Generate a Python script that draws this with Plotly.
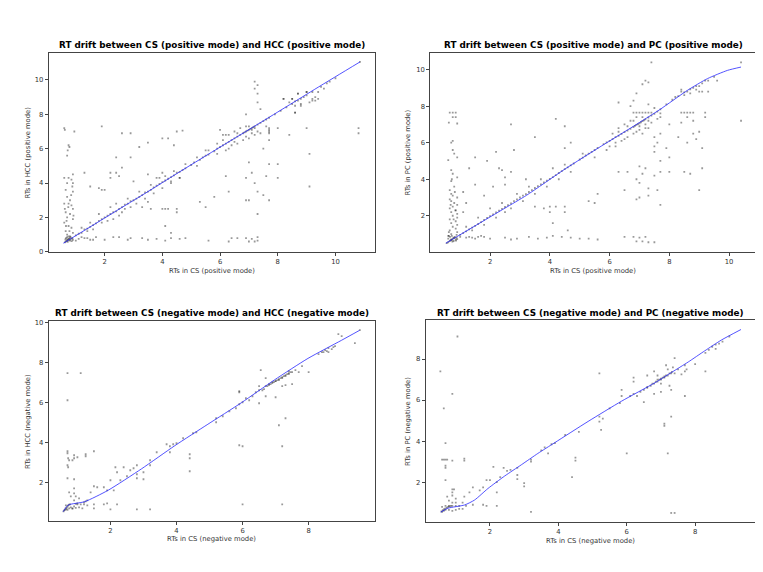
import plotly.graph_objects as go

# ---- positive mode, CS vs HCC (scatter of matched RTs + fitted drift curve)
pos_hcc_cs = [
    0.62, 0.65, 0.68, 0.70, 0.72, 0.74, 0.76, 0.78, 0.80, 0.82,
    0.66, 0.70, 0.75, 0.80, 0.85, 0.88, 0.90, 0.64, 0.72, 0.86,
    1.00, 1.10, 1.20, 1.30, 1.40, 1.50, 1.60, 1.70, 1.80, 1.90,
    2.00, 2.10, 2.20, 2.30, 2.40, 2.50, 2.60, 2.70, 2.80, 2.90,
    3.00, 3.10, 3.20, 3.30, 3.40, 3.50, 3.60, 3.70, 3.80, 3.90,
    4.00, 4.10, 4.20, 4.30, 4.40, 4.50, 4.60, 4.70, 4.80, 5.00,
    5.10, 5.30, 5.40, 5.50, 5.60, 5.80, 5.90, 6.00, 6.10, 6.20,
    6.30, 6.40, 6.50, 6.60, 6.70, 6.80, 6.85, 6.90, 6.95, 7.00,
    7.05, 7.10, 7.15, 7.20, 7.30, 7.40, 7.50, 7.60, 7.70, 7.90,
    8.10, 8.30, 8.50, 8.60, 8.70, 8.80, 8.90, 9.00, 9.20, 9.50,
    9.80, 10.00,
    1.20, 1.40, 1.50, 1.60, 1.80, 1.90, 2.10, 2.20, 2.30, 2.40,
    2.50, 2.60, 2.70, 2.80, 2.90, 3.10, 3.20, 3.40, 3.60, 3.70,
    3.90, 4.00, 4.10, 4.30, 4.40, 4.60, 4.80, 5.20, 5.60, 5.90,
    6.10, 6.20, 6.30, 6.40, 6.50, 6.60, 6.70, 6.80, 6.90, 7.00,
    7.10, 7.20, 7.30, 7.40, 6.60, 6.90, 7.00, 7.10, 7.20, 6.50,
    6.20, 6.30, 7.60, 7.70, 7.70, 8.20, 8.50, 8.60, 8.70, 8.80,
    9.00, 9.10, 9.20, 9.30, 9.40, 8.60, 9.70, 9.30, 8.40,
    0.60, 0.62, 0.75, 0.78, 0.70, 0.72, 0.60, 0.75, 0.90, 0.85,
    0.70, 0.90, 0.65, 0.90, 0.70, 0.80, 0.60, 0.75, 0.85, 0.90,
    0.65, 0.80, 0.70, 0.90, 0.60, 0.75, 0.85, 0.65, 0.90, 0.70,
    0.80, 0.95, 0.62, 0.68, 0.78, 0.88, 0.92, 0.66, 0.84, 0.74,
    1.20, 1.40, 1.50, 1.70, 2.00, 2.30, 2.50, 2.80, 2.90, 3.30,
    3.50, 3.80, 4.10, 4.30, 4.60, 4.80, 5.60, 6.30, 6.40, 6.60,
    6.90, 7.00, 7.10, 7.20, 7.30, 7.30, 1.00, 1.10, 1.30, 1.60,
    1.90, 2.60, 2.90, 4.00, 4.20, 4.50, 4.70, 4.40, 3.50, 3.20,
    2.40, 2.90, 1.30, 2.20, 2.40, 2.50, 1.50, 1.80, 1.90, 2.00,
    2.20, 2.60, 3.00, 3.50, 3.80, 4.00, 4.30, 4.60, 5.20, 5.50,
    5.90, 6.00, 6.10,
    3.30, 3.60, 4.00, 4.10, 4.20, 4.50, 4.50, 4.10, 4.30, 3.50,
    5.30, 5.50, 5.80, 6.30, 6.20, 6.90, 7.00, 6.90, 7.00, 7.10,
    7.20, 7.30, 7.30, 7.50, 7.60, 7.70, 7.70, 7.50, 7.70, 8.00,
    8.00, 9.10, 9.10, 9.00, 8.40, 8.00, 7.70, 7.70,
    7.20, 7.20, 7.30, 7.30, 7.30, 6.90, 7.40, 10.80, 10.80, 8.50,
    8.70, 8.80, 9.00, 9.20, 9.40, 9.60, 8.60, 8.20, 10.85,
]
pos_hcc_rt = [
    0.55, 0.60, 0.62, 0.70, 0.66, 0.75, 0.70, 0.80, 0.72, 0.85,
    0.80, 0.85, 0.90, 0.65, 0.75, 0.80, 0.70, 0.72, 0.58, 0.62,
    0.95, 1.05, 1.10, 1.30, 1.35, 1.45, 1.55, 1.65, 1.80, 1.90,
    2.00, 2.10, 2.20, 2.30, 2.35, 2.50, 2.60, 2.75, 2.80, 2.95,
    3.00, 3.10, 3.20, 3.30, 3.45, 3.50, 3.60, 3.75, 3.85, 3.95,
    4.05, 4.15, 4.25, 4.35, 4.45, 4.60, 4.65, 4.75, 4.85, 5.05,
    5.20, 5.35, 5.50, 5.60, 5.65, 5.85, 6.00, 6.10, 6.20, 6.30,
    6.40, 6.50, 6.60, 6.70, 6.80, 6.90, 6.95, 7.00, 7.05, 7.10,
    7.15, 7.20, 7.25, 7.30, 7.40, 7.50, 7.60, 7.70, 7.80, 8.00,
    8.20, 8.40, 8.60, 8.75, 8.80, 8.90, 9.00, 9.10, 9.30, 9.60,
    9.90, 10.10,
    1.40, 1.20, 1.70, 1.30, 2.20, 1.70, 1.80, 2.60, 1.90, 2.80,
    2.10, 2.30, 2.50, 3.10, 2.60, 2.80, 3.50, 3.10, 3.90, 3.40,
    4.30, 3.70, 4.40, 4.10, 4.70, 4.30, 5.10, 5.00, 5.90, 5.70,
    6.50, 5.90, 6.80, 6.20, 7.00, 6.30, 7.20, 6.50, 7.30, 6.60,
    7.10, 6.80, 7.00, 6.90, 6.90, 6.70, 7.30, 6.90, 7.20, 6.40,
    6.80, 6.00, 7.30, 7.10, 6.90, 8.90, 8.90, 8.50, 9.20, 8.60,
    9.30, 8.70, 8.90, 9.00, 9.30, 8.10, 9.80, 8.80, 8.70,
    7.20, 7.10, 6.20, 6.10, 5.60, 5.90, 4.30, 4.30, 4.50, 4.20,
    4.00, 4.00, 3.60, 3.50, 3.20, 3.00, 2.80, 2.80, 2.70, 2.50,
    2.30, 2.20, 2.00, 1.90, 1.70, 1.50, 1.40, 1.20, 1.10, 1.00,
    0.90, 7.00, 2.50, 1.80, 1.20, 3.80, 2.10, 1.50, 3.30, 2.60,
    0.85, 0.80, 0.70, 0.85, 0.70, 0.85, 0.85, 0.70, 0.80, 0.80,
    0.70, 0.75, 0.65, 0.80, 0.75, 0.80, 0.65, 0.60, 0.80, 0.80,
    0.80, 0.60, 0.75, 0.60, 0.85, 0.65, 0.65, 0.75, 0.80, 0.70,
    7.30, 6.90, 6.90, 6.60, 6.60, 7.00, 7.05, 6.20, 6.35, 6.10,
    5.50, 5.50, 4.60, 4.60, 4.60, 4.40, 3.80, 3.70, 3.60, 3.60,
    4.30, 4.90, 4.10, 4.50, 4.30, 4.60, 4.00, 4.30, 5.50, 5.90,
    6.30, 7.10, 6.80,
    2.60, 2.50, 2.50, 2.50, 2.50, 2.50, 2.30, 1.50, 1.10, 2.90,
    2.90, 2.60, 3.20, 3.50, 4.40, 3.00, 3.00, 4.30, 5.20, 4.60,
    4.00, 3.50, 2.20, 3.30, 4.40, 5.10, 3.00, 6.00, 6.50, 5.10,
    4.30, 3.80, 5.70, 7.20, 6.80, 7.20, 7.20, 7.00,
    9.90, 9.50, 9.70, 8.70, 9.20, 8.00, 8.30, 7.20, 6.90, 8.90,
    9.20, 8.50, 9.30, 8.80, 8.90, 9.50, 8.10, 8.90, 11.05,
]
pos_hcc_fit_cs = [0.57, 1.5, 2.5, 3.5, 4.5, 5.5, 6.5, 7.5, 8.5, 9.5, 10.85]
pos_hcc_fit_rt = [0.50, 1.45, 2.48, 3.50, 4.55, 5.58, 6.60, 7.62, 8.65, 9.68, 11.05]

# ---- positive mode, CS vs PC
pos_pc_cs = [
    0.55, 0.60, 0.65, 0.68, 0.70, 0.72, 0.75, 0.78, 0.80, 0.82,
    0.60, 0.66, 0.72, 0.78, 0.85, 0.88, 0.90, 0.62, 0.74, 0.86,
    1.00, 1.10, 1.20, 1.30, 1.40, 1.50, 1.60, 1.70, 1.80, 1.90,
    2.00, 2.10, 2.20, 2.30, 2.40, 2.50, 2.60, 2.70, 2.80, 2.90,
    3.00, 3.10, 3.20, 3.30, 3.40, 3.50, 3.60, 3.70, 3.80, 3.90,
    4.00, 4.10, 4.20, 4.30, 4.40, 4.50, 4.60, 4.70, 4.80, 5.00,
    5.10, 5.20, 5.30, 5.40, 5.50, 5.60, 5.80, 5.90, 6.00, 6.10,
    6.20, 6.30, 6.40, 6.50, 6.60, 6.70, 6.80, 6.85, 6.90, 6.95,
    7.00, 7.05, 7.10, 7.15, 7.20, 7.30, 7.40, 7.50, 7.60, 7.70,
    7.90, 8.10, 8.30, 8.50, 8.70, 8.90, 9.10, 9.30,
    1.20, 1.40, 1.60, 1.80, 2.00, 2.20, 2.40, 2.50, 2.70, 2.90,
    3.10, 3.30, 3.50, 3.70, 3.90, 4.10, 4.30, 4.50, 4.70, 5.10,
    5.50, 5.90, 6.10, 6.20, 6.30, 6.40, 6.50, 6.60, 6.70, 6.80,
    6.90, 7.00, 7.10, 7.20, 7.30, 7.40, 6.60, 6.80, 7.00, 7.20,
    6.30, 6.50, 6.90, 7.10, 7.30, 7.60, 7.70, 6.20, 6.00,
    0.65, 0.75, 0.85, 0.75, 0.85, 0.62, 0.90, 0.75, 0.70, 0.75,
    0.80, 0.90, 0.60, 0.70, 0.75, 0.90, 0.70, 0.80, 0.65, 0.70,
    0.75, 0.90, 0.65, 0.70, 0.80, 0.90, 0.75, 0.65, 0.85, 0.70,
    0.90, 0.75, 0.90, 0.65, 0.85, 0.70, 0.90, 0.75, 0.85, 0.65,
    0.90, 0.70, 0.88, 0.60, 0.72, 0.82, 0.68, 0.78, 0.62, 0.84,
    1.10, 1.20, 1.10, 1.30, 1.50, 1.50, 1.80, 1.90, 2.20, 2.10,
    2.40, 2.50, 2.30, 2.50, 2.70, 2.80, 3.20, 3.50, 2.70, 4.20,
    4.50, 4.50, 4.70,
    1.00, 1.20, 1.30, 1.40, 1.50, 1.60, 1.70, 1.80, 2.00, 2.50,
    2.70, 2.90, 3.30, 3.60, 3.90, 4.10, 4.40, 4.60, 4.70, 5.00,
    5.30, 5.60, 6.50, 6.80, 6.90, 7.00, 7.10, 7.20, 7.30, 7.50,
    3.50, 3.80, 4.00, 4.10, 4.00, 4.20, 4.50, 4.50, 5.30, 5.60,
    5.50, 6.30, 6.50, 6.60, 6.90, 7.00, 6.90, 7.00, 7.10, 7.00,
    7.20, 7.30, 7.30, 7.50, 7.60, 7.70, 7.70, 7.70, 7.90, 8.00,
    8.00, 7.50, 7.50, 8.50, 8.70, 9.00, 9.10, 9.10, 8.90, 8.60,
    8.30, 8.80, 9.00, 8.40, 8.00, 7.70, 7.60, 7.50,
    6.80, 6.90, 7.00, 7.10, 7.20, 7.30, 7.40, 8.40, 8.50, 8.60,
    8.70, 8.80, 9.20, 8.60, 8.80, 10.40, 9.20, 7.30, 7.50, 7.70,
    7.10, 7.20, 7.30, 7.40, 6.90, 6.70, 6.80,
    8.20, 8.40, 8.50, 8.60, 8.70, 8.80, 8.90, 9.00, 9.10, 9.20,
    9.30, 9.50, 9.60, 8.40, 9.00, 10.40, 6.30,
]
pos_pc_rt = [
    0.50, 0.55, 0.62, 0.66, 0.70, 0.68, 0.75, 0.80, 0.78, 0.85,
    0.75, 0.85, 0.90, 0.62, 0.70, 0.80, 0.72, 0.90, 0.58, 0.64,
    0.95, 1.05, 1.15, 1.25, 1.35, 1.45, 1.55, 1.65, 1.78, 1.88,
    1.98, 2.08, 2.18, 2.28, 2.38, 2.48, 2.58, 2.68, 2.80, 2.90,
    3.00, 3.10, 3.18, 3.30, 3.40, 3.52, 3.62, 3.72, 3.82, 3.92,
    4.02, 4.12, 4.22, 4.34, 4.44, 4.55, 4.65, 4.76, 4.86, 5.08,
    5.18, 5.30, 5.40, 5.50, 5.60, 5.72, 5.92, 6.02, 6.10, 6.20,
    6.30, 6.38, 6.48, 6.58, 6.66, 6.76, 6.86, 6.92, 6.98, 7.02,
    7.06, 7.12, 7.18, 7.22, 7.28, 7.38, 7.48, 7.58, 7.70, 7.82,
    8.10, 8.35, 8.55, 8.75, 8.92, 9.10, 9.25, 9.40,
    1.40, 1.20, 1.90, 1.50, 2.40, 1.90, 2.70, 2.20, 2.40, 3.20,
    2.80, 3.60, 3.20, 4.00, 3.60, 4.60, 4.00, 4.80, 4.40, 5.40,
    5.20, 5.60, 6.50, 5.80, 6.80, 6.10, 7.00, 6.30, 7.20, 6.50,
    7.40, 6.70, 7.40, 6.80, 7.20, 7.10, 6.90, 7.20, 6.90, 7.00,
    6.60, 6.20, 6.60, 6.50, 6.80, 7.30, 7.40, 6.00, 5.80,
    7.65, 7.65, 7.65, 7.40, 7.40, 7.10, 7.05, 6.10, 6.00, 5.60,
    5.40, 5.20, 5.05, 4.50, 4.30, 4.10, 3.90, 3.60, 3.40, 3.20,
    3.10, 3.00, 2.90, 2.80, 2.70, 2.60, 2.50, 2.40, 2.30, 2.20,
    2.10, 2.00, 1.90, 1.80, 1.70, 1.60, 1.50, 1.40, 1.30, 1.20,
    1.10, 1.00, 0.95, 0.90, 4.00, 3.30, 2.60, 1.80, 1.10, 2.30,
    3.30, 2.70, 2.20, 4.60, 5.20, 3.70, 3.10, 5.00, 5.50, 3.60,
    4.50, 4.10, 4.60, 3.70, 4.40, 5.60, 4.00, 6.30, 7.00, 7.30,
    5.70, 6.90, 6.00,
    0.85, 0.80, 0.85, 0.80, 0.75, 0.85, 0.90, 0.85, 0.75, 0.80,
    0.70, 0.75, 0.85, 0.75, 0.80, 0.90, 0.85, 1.20, 0.80, 0.75,
    0.75, 0.70, 0.85, 0.85, 0.60, 0.80, 0.60, 0.85, 0.55, 0.55,
    2.50, 2.40, 2.50, 1.60, 2.20, 2.50, 2.50, 2.20, 2.80, 3.20,
    2.70, 4.40, 3.40, 4.40, 2.90, 3.00, 4.00, 3.80, 4.30, 4.70,
    4.60, 3.50, 3.10, 4.20, 3.40, 4.40, 2.60, 5.00, 5.70, 4.40,
    5.20, 5.50, 5.80, 4.40, 4.30, 3.40, 4.60, 5.70, 6.20, 6.00,
    6.30, 6.50, 6.60, 7.10, 7.00, 6.50, 6.00, 6.30,
    7.65, 7.65, 7.65, 7.65, 7.65, 7.65, 7.65, 7.65, 7.65, 7.65,
    7.65, 7.65, 7.65, 7.40, 7.20, 7.20, 7.40, 8.10, 7.90, 7.60,
    9.20, 9.40, 9.30, 10.40, 8.70, 8.00, 8.30,
    8.50, 8.80, 8.60, 8.80, 8.70, 9.00, 8.90, 9.10, 8.80, 9.40,
    8.80, 9.60, 9.40, 8.90, 8.80, 10.40, 8.20,
]
pos_pc_fit_cs = [0.52, 1.5, 2.5, 3.22, 4.5, 5.73, 6.8, 7.67, 8.62, 9.28, 9.95, 10.40]
pos_pc_fit_rt = [0.50, 1.45, 2.42, 3.12, 4.55, 5.82, 6.90, 7.80, 8.88, 9.51, 9.96, 10.14]

# ---- negative mode, CS vs HCC
neg_hcc_cs = [
    0.58, 0.60, 0.62, 0.64, 0.66, 0.68, 0.70, 0.72, 0.75, 0.78,
    0.80, 0.85, 0.90, 0.95, 1.00, 1.05, 1.10, 1.20, 1.25, 1.30,
    0.65, 0.70, 0.75, 0.85, 0.95, 1.05, 1.15,
    0.70, 0.70, 1.10, 0.70, 0.70, 0.72, 0.75, 0.70, 0.72, 0.70,
    0.90, 0.90, 0.85, 1.00, 1.25, 1.25, 1.50, 0.90, 0.75, 0.80,
    0.90, 0.90, 0.95, 0.90,
    1.00, 1.20, 1.30, 1.50, 1.80, 1.90, 2.20, 1.50, 2.00, 2.80,
    3.20, 6.00, 7.20,
    1.40, 1.50, 1.60, 1.80, 1.90, 2.00, 2.10, 2.15, 2.20, 2.30,
    2.40, 2.50, 2.60, 2.70, 2.80, 2.80, 2.80, 3.00, 3.00, 3.20,
    3.20, 3.40, 3.70, 3.80, 3.80, 3.90, 4.00, 4.40, 4.40, 4.40,
    4.20, 4.50, 4.60, 5.20, 5.20, 5.40, 5.60, 5.80, 5.90, 6.00,
    5.90, 5.90, 5.90, 6.00, 6.10, 6.20, 6.30, 6.40, 6.50, 6.50,
    6.50, 6.55, 6.70, 6.70, 6.70, 6.80, 6.90, 7.00, 7.00, 7.10,
    7.10, 7.20, 7.20, 7.20, 7.30, 7.30, 7.30, 7.40, 7.40, 7.50,
    7.50, 7.60, 7.70, 7.80, 8.00, 8.50, 8.60, 8.70, 8.80, 8.60,
    8.90, 9.00, 9.40, 9.55, 8.40, 8.55,
    6.75, 6.80, 6.85, 6.90, 6.95, 7.00, 7.05, 7.10, 7.15, 7.20,
    7.25, 7.30, 7.35, 6.60, 6.65, 7.40, 7.45, 8.30, 8.45, 8.75,
]
neg_hcc_rt = [
    0.55, 0.60, 0.62, 0.70, 0.65, 0.72, 0.80, 0.85, 0.88, 0.90,
    0.75, 0.70, 0.80, 0.92, 0.95, 0.75, 0.90, 1.00, 1.05, 1.10,
    0.85, 0.62, 0.70, 0.68, 0.72, 1.20, 0.70,
    7.45, 6.10, 7.45, 3.55, 3.45, 3.20, 3.10, 2.85, 2.75, 2.20,
    3.20, 3.35, 3.10, 3.25, 3.40, 3.30, 3.55, 2.15, 1.50, 1.30,
    1.70, 1.45, 1.30, 1.10,
    0.90, 0.90, 0.85, 0.90, 0.90, 0.95, 0.90, 0.70, 0.65, 0.65,
    0.65, 0.90, 0.90,
    1.50, 1.80, 1.75, 1.75, 1.60, 2.10, 1.60, 2.75, 2.50, 2.10,
    2.75, 2.30, 2.60, 2.70, 2.85, 2.40, 2.20, 2.50, 2.15, 2.85,
    3.10, 3.50, 3.90, 3.80, 3.50, 3.90, 3.95, 3.40, 3.20, 2.55,
    4.20, 4.45, 4.50, 5.20, 5.00, 5.30, 5.55, 5.70, 5.90, 6.00,
    6.50, 6.55, 3.85, 3.80, 6.20, 6.10, 6.30, 6.50, 6.60, 5.95,
    6.80, 7.60, 6.80, 7.20, 6.30, 6.90, 7.00, 7.05, 6.25, 7.10,
    4.85, 7.20, 6.80, 3.80, 7.30, 5.20, 6.85, 7.40, 7.55, 7.50,
    6.90, 7.60, 7.50, 7.80, 7.50, 8.60, 8.70, 8.65, 8.80, 8.50,
    9.40, 9.30, 8.95, 9.60, 8.50, 8.55,
    6.80, 6.85, 6.90, 6.95, 7.00, 7.05, 7.10, 7.15, 7.20, 7.25,
    7.30, 7.35, 7.40, 6.60, 6.65, 7.45, 7.50, 8.40, 8.50, 8.75,
]
neg_hcc_fit_cs = [0.57, 0.72, 1.22, 1.93, 2.94, 3.95, 4.95, 5.96, 6.97, 7.98, 8.99, 9.54]
neg_hcc_fit_rt = [0.53, 0.86, 1.03, 1.60, 2.67, 3.83, 4.90, 5.97, 7.12, 8.19, 9.09, 9.59]

# ---- negative mode, CS vs PC
neg_pc_cs = [
    0.55, 0.65, 0.90, 1.05, 0.70, 0.60, 0.65, 0.70, 0.75, 0.90,
    1.25, 1.25, 0.70, 0.70, 0.70, 0.90, 0.95, 0.90, 0.90, 0.75,
    0.80, 1.00, 1.00, 1.25, 1.20, 0.90, 0.60, 0.70, 0.80, 0.90,
    1.00, 1.10, 1.30, 1.50, 1.80, 1.90, 2.20, 0.60, 0.65, 0.70,
    0.80, 0.90, 1.00, 1.10, 1.20, 1.40, 1.50, 1.70, 1.80, 1.90,
    2.00, 2.10, 2.20, 2.20, 2.30, 2.40, 2.50, 2.60, 2.80, 2.80,
    2.80, 3.00, 3.00, 3.20, 3.20, 3.20, 3.50, 3.60, 3.80, 3.70,
    3.90, 4.20, 4.40, 4.50, 4.50, 4.60, 5.20, 5.20, 5.30, 5.20,
    5.25, 5.50, 5.80, 5.85, 5.85, 6.00, 6.10, 6.20, 6.20, 6.20,
    6.30, 6.40, 6.50, 6.50, 6.60, 6.60, 6.70, 6.80, 6.80, 6.80,
    6.90, 6.90, 6.90, 7.00, 7.00, 7.00, 7.10, 7.10, 7.10, 7.15,
    7.20, 7.20, 7.20, 7.25, 7.30, 7.30, 7.30, 7.30, 7.35, 7.40,
    7.40, 7.40, 7.50, 7.60, 7.70, 7.70, 7.70, 7.75, 8.00, 8.30,
    8.30, 8.40, 8.50, 8.60, 8.70, 8.80, 9.00, 8.60,
    0.58, 0.62, 0.66, 0.70, 0.74, 0.78, 0.82, 0.86, 6.75, 6.85,
    6.95, 7.05, 7.15, 7.25, 7.32, 7.00, 7.10, 6.60,
]
neg_pc_rt = [
    7.40, 5.60, 6.30, 9.10, 3.90, 3.10, 3.10, 3.10, 3.10, 3.05,
    3.15, 3.05, 2.80, 2.70, 2.10, 1.65, 1.65, 1.50, 1.35, 1.30,
    1.10, 1.00, 1.20, 1.30, 1.00, 1.00, 0.80, 0.85, 0.85, 0.85,
    0.85, 0.85, 0.85, 0.90, 0.90, 0.85, 0.85, 0.55, 0.60, 0.65,
    0.65, 0.60, 0.65, 0.70, 0.70, 1.50, 1.75, 1.60, 1.75, 2.10,
    2.10, 2.75, 1.50, 2.00, 2.25, 2.70, 2.55, 2.60, 2.70, 2.35,
    2.15, 1.95, 1.80, 0.55, 3.10, 3.00, 3.55, 3.70, 3.85, 3.40,
    3.90, 4.30, 2.25, 3.20, 3.05, 4.45, 7.30, 5.20, 5.10, 4.95,
    4.55, 5.60, 5.85, 6.20, 6.50, 3.40, 6.20, 7.10, 6.30, 6.90,
    6.20, 6.40, 6.50, 5.90, 6.60, 7.20, 6.70, 6.80, 7.40, 6.30,
    6.90, 7.20, 7.00, 7.00, 6.80, 6.40, 7.10, 4.85, 4.75, 7.70,
    7.20, 3.40, 7.50, 6.70, 7.30, 0.50, 5.20, 6.50, 7.60, 8.05,
    7.30, 0.50, 7.50, 7.25, 7.70, 7.40, 6.20, 7.50, 7.75, 7.40,
    8.30, 8.45, 8.60, 8.70, 8.75, 8.85, 9.10, 8.50,
    0.58, 0.64, 0.68, 0.72, 0.76, 0.80, 0.82, 0.85, 6.80, 6.90,
    7.00, 7.10, 7.20, 7.30, 7.38, 7.05, 7.15, 6.65,
]
neg_pc_fit_cs = [0.56, 0.77, 1.26, 1.55, 1.94, 2.43, 2.92, 3.40, 3.89, 4.87, 5.85, 6.83, 7.31, 7.80, 8.28, 8.77, 9.34]
neg_pc_fit_rt = [0.54, 0.73, 0.89, 1.13, 1.69, 2.30, 2.85, 3.40, 3.92, 4.96, 5.95, 6.85, 7.35, 7.86, 8.40, 8.93, 9.44]

# tick positions shown on each panel
ticks_pos_hcc_x = [2, 4, 6, 8, 10]
ticks_pos_hcc_y = [0, 2, 4, 6, 8, 10]
ticks_pos_pc_x = [2, 4, 6, 8, 10]
ticks_pos_pc_y = [2, 4, 6, 8, 10]
ticks_neg_hcc_x = [2, 4, 6, 8]
ticks_neg_hcc_y = [2, 4, 6, 8, 10]
ticks_neg_pc_x = [2, 4, 6, 8]
ticks_neg_pc_y = [2, 4, 6, 8]

panels = [
    dict(x=pos_hcc_cs, y=pos_hcc_rt, fx=pos_hcc_fit_cs, fy=pos_hcc_fit_rt,
         tx=ticks_pos_hcc_x, tyv=ticks_pos_hcc_y,
         title="RT drift between CS (positive mode) and HCC (positive mode)",
         xlab="RTs in CS (positive mode)", ylab="RTs in HCC (positive mode)",
         dx=[0.0533, 0.4806], dy=[0.5729, 0.9260], rx=[0.06, 11.36], ry=[-0.03, 11.58],
         ty=0.9393, xly=0.5397, ylx=0.0262),
    dict(x=pos_pc_cs, y=pos_pc_rt, fx=pos_pc_fit_cs, fy=pos_pc_fit_rt,
         tx=ticks_pos_pc_x, tyv=ticks_pos_pc_y,
         title="RT drift between CS (positive mode) and PC (positive mode)",
         xlab="RTs in CS (positive mode)", ylab="RTs in PC (positive mode)",
         dx=[0.5535, 0.9803], dy=[0.5729, 0.9260], rx=[0.0, 10.9], ry=[0.0, 10.92],
         ty=0.9393, xly=0.5397, ylx=0.5242),
    dict(x=neg_hcc_cs, y=neg_hcc_rt, fx=neg_hcc_fit_cs, fy=neg_hcc_fit_rt,
         tx=ticks_neg_hcc_x, tyv=ticks_neg_hcc_y,
         title="RT drift between CS (negative mode) and HCC (negative mode)",
         xlab="RTs in CS (negative mode)", ylab="RTs in HCC (negative mode)",
         dx=[0.0533, 0.4806], dy=[0.0979, 0.4510], rx=[0.13, 10.0], ry=[0.08, 10.05],
         ty=0.4656, xly=0.0647, ylx=0.0262),
    dict(x=neg_pc_cs, y=neg_pc_rt, fx=neg_pc_fit_cs, fy=neg_pc_fit_rt,
         tx=ticks_neg_pc_x, tyv=ticks_neg_pc_y,
         title="RT drift between CS (negative mode) and PC (negative mode)",
         xlab="RTs in CS (negative mode)", ylab="RTs in PC (negative mode)",
         dx=[0.5474, 0.9799], dy=[0.0956, 0.4533], rx=[0.12, 9.77], ry=[0.06, 9.91],
         ty=0.4663, xly=0.0617, ylx=0.5242),
]

fig = go.Figure()
annotations = []
font_fam = "DejaVu Sans"

for i, p in enumerate(panels):
    n = "" if i == 0 else str(i + 1)
    fig.add_trace(go.Scatter(x=p["x"], y=p["y"], mode="markers",
                             marker=dict(size=1.8, symbol="square", color="rgba(0,0,0,0.4)"),
                             xaxis="x" + n, yaxis="y" + n, showlegend=False))
    fig.add_trace(go.Scatter(x=p["fx"], y=p["fy"], mode="lines", line_shape="spline",
                             line=dict(color="rgba(40,40,255,0.8)", width=1, smoothing=0.6),
                             xaxis="x" + n, yaxis="y" + n, showlegend=False))
    axis_style = dict(showgrid=False, zeroline=False, showline=True, mirror=True,
                      linecolor="#444", linewidth=1, ticks="outside", ticklen=3,
                      tickcolor="#444", tickfont=dict(family=font_fam, size=6.8, color="#333"))
    fig.update_layout(**{
        "xaxis" + n: dict(domain=p["dx"], range=p["rx"], anchor="y" + n,
                          tickmode="array", tickvals=p["tx"], **axis_style),
        "yaxis" + n: dict(domain=p["dy"], range=p["ry"], anchor="x" + n,
                          tickmode="array", tickvals=p["tyv"], **axis_style),
    })
    cx = (p["dx"][0] + p["dx"][1]) / 2
    cy = (p["dy"][0] + p["dy"][1]) / 2
    annotations.append(dict(text="<b>" + p["title"] + "</b>", x=cx, y=p["ty"], xref="paper", yref="paper",
                            showarrow=False, xanchor="center", yanchor="middle",
                            font=dict(family=font_fam, size=8.8, color="black")))
    annotations.append(dict(text=p["xlab"], x=cx, y=p["xly"], xref="paper", yref="paper",
                            showarrow=False, xanchor="center", yanchor="middle",
                            font=dict(family=font_fam, size=6.8, color="#333")))
    annotations.append(dict(text=p["ylab"], x=p["ylx"], y=cy, xref="paper", yref="paper",
                            showarrow=False, xanchor="center", yanchor="middle", textangle=-90,
                            font=dict(family=font_fam, size=6.8, color="#333")))

fig.update_layout(width=763, height=572, margin=dict(l=0, r=0, t=0, b=0),
                  paper_bgcolor="white", plot_bgcolor="white", annotations=annotations)

fig.write_html("out.html")
